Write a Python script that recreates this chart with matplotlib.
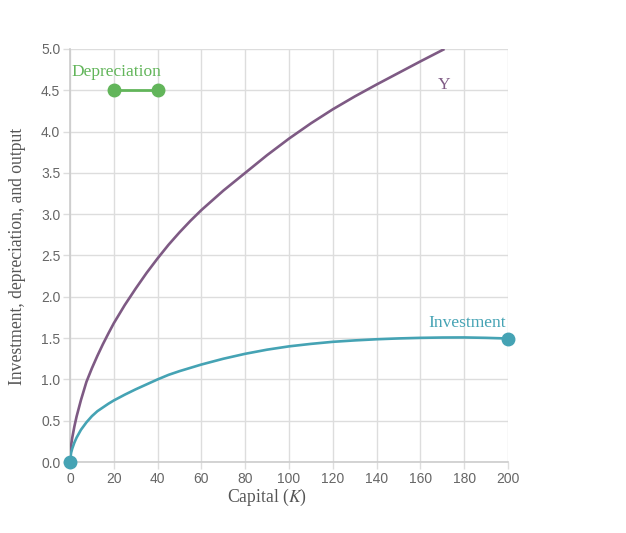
import matplotlib
matplotlib.use("Agg")
import matplotlib.pyplot as plt

# Data
k_output = [0, 0.5, 1, 2, 3, 5, 7.5, 10, 12.5, 15, 17.5, 20, 25, 30, 35, 40, 45, 50, 55, 60,
            70, 80, 90, 100, 110, 120, 130, 140, 150, 160, 171]
output_y = [0, 0.20, 0.29, 0.43, 0.55, 0.75, 0.97, 1.135, 1.285, 1.425, 1.555, 1.68, 1.90, 2.10, 2.29, 2.465,
            2.63, 2.78, 2.92, 3.05, 3.285, 3.50, 3.715, 3.915, 4.10, 4.27, 4.425, 4.57, 4.71, 4.85, 5.0]

k_invest = [0, 0.5, 1, 2, 3, 5, 7.5, 10, 12.5, 15, 17.5, 20, 25, 30, 35, 40, 45, 50, 55, 60,
            70, 80, 90, 100, 110, 120, 130, 140, 150, 160, 170, 180, 190, 200]
investment = [0, 0.11, 0.16, 0.235, 0.295, 0.39, 0.48, 0.555, 0.615, 0.66, 0.705, 0.745, 0.815, 0.88, 0.94, 1.00,
              1.055, 1.10, 1.14, 1.18, 1.25, 1.31, 1.36, 1.40, 1.43, 1.455, 1.472, 1.486, 1.496, 1.503,
              1.507, 1.508, 1.503, 1.495]

dep_k = [20, 40]
dep_y = [4.5, 4.5]

x_ticks = [0, 20, 40, 60, 80, 100, 120, 140, 160, 180, 200]
y_ticks = [0.0, 0.5, 1.0, 1.5, 2.0, 2.5, 3.0, 3.5, 4.0, 4.5, 5.0]

purple = "#7e5a84"
teal = "#45a3b4"
green = "#62b55a"
grid_c = "#dddddd"
tick_c = "#666666"

fig = plt.figure(figsize=(6.26, 5.33), dpi=100)
ax = fig.add_axes([70/626, 1-462/533, (508-70)/626, (462-49)/533])

ax.plot(k_output, output_y, color=purple, lw=1.9, solid_capstyle="butt", solid_joinstyle="round", zorder=3)
ax.plot(k_invest, investment, color=teal, lw=1.9, solid_joinstyle="round", zorder=3)
ax.plot([k_invest[0]], [investment[0]], "o", color=teal, ms=9, zorder=4, clip_on=False)
ax.plot([k_invest[-1]], [investment[-1]], "o", color=teal, ms=9, zorder=4, clip_on=False)
ax.plot(dep_k, dep_y, color=green, lw=2, marker="o", ms=9, zorder=4)

ax.set_xlim(0, 200)
ax.set_ylim(0, 5)
ax.set_xticks(x_ticks)
ax.set_yticks(y_ticks)
ax.set_yticklabels([f"{v:.1f}" for v in y_ticks])
ax.grid(True, color=grid_c, lw=1)
ax.set_axisbelow(True)
for s in ["top", "right"]:
    ax.spines[s].set_visible(False)
for s in ["left", "bottom"]:
    ax.spines[s].set_color("#cccccc")
    ax.spines[s].set_linewidth(1.2)
ax.tick_params(colors=grid_c, labelcolor=tick_c, labelsize=10, length=5, width=1, pad=2)
for lab in ax.get_xticklabels() + ax.get_yticklabels():
    lab.set_family("Liberation Sans")

serif = "Liberation Serif"
ax.text(21.3, 4.67, "Depreciation", color=green, fontsize=12.5, family=serif, ha="center", va="baseline")
ax.text(171, 4.57, "Y", color=purple, fontsize=12.5, family=serif, ha="center", va="center")
ax.text(199.1, 1.634, "Investment", color=teal, fontsize=12.5, family=serif, ha="right", va="baseline")

fig.text(267/626, 1-497/533, "Capital ($\\mathit{K}$)", fontsize=12.7, family=serif, color="#555555",
         ha="center", va="center", math_fontfamily="stix")
fig.text(18/626, 1-256/533, "Investment, depreciation, and output", fontsize=12.7, family=serif,
         color="#555555", rotation=90, ha="center", va="center")

fig.savefig("out.png", dpi=100)
